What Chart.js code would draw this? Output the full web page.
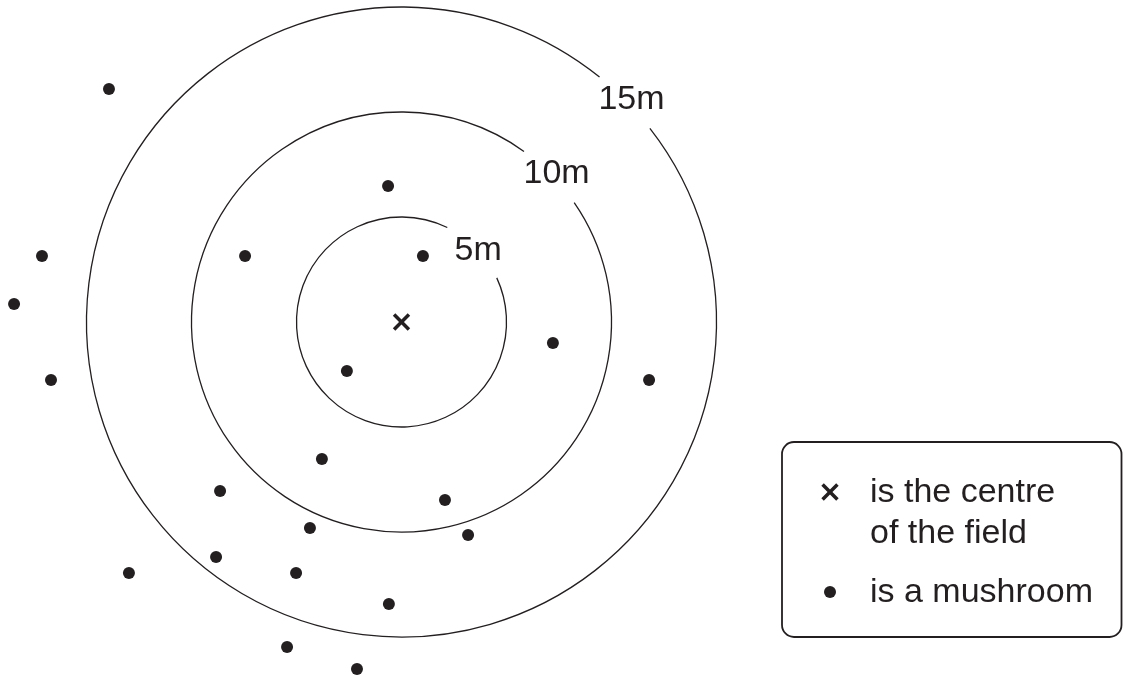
<!DOCTYPE html>
<html>
<head>
<meta charset="utf-8">
<title>Mushrooms in the field</title>
<script src="https://cdn.jsdelivr.net/npm/chart.js@4/dist/chart.umd.min.js"></script>
<style>
  html, body { margin: 0; padding: 0; background: #fff; }
  #wrap { width: 1123px; height: 677px; position: relative; }
</style>
</head>
<body>
<div id="wrap"><canvas id="field"></canvas></div>
<script>
// ---- data (metres from the centre of the field) ----
const ringRadii  = [5, 10, 15];
const ringLabels = ['5m', '10m', '15m'];

const centreX = [0];
const centreY = [0];

const mushroomX = [-13.93, -17.12, -18.45, -16.69, -7.45, -0.64, 1.02, -2.60, 7.21, 11.79,
                   -3.79, -8.64, 2.07, -4.36, 3.17, -8.83, -12.98, -5.02, -0.60, -5.45, -2.12];
const mushroomY = [11.10, 3.14, 0.86, -2.76, 3.14, 6.48, 3.14, -2.33, -1.00, -2.76,
                   -6.52, -8.05, -8.48, -9.81, -10.14, -11.19, -11.95, -11.95, -13.43, -15.48, -16.52];

const legendLines = [['is the centre', 'of the field'], ['is a mushroom']];

const INK = '#231f20';
const FONT = '"Liberation Sans", Arial, Helvetica, sans-serif';

const toPts = (xs, ys) => xs.map((x, i) => ({ x, y: ys[i] }));

// ── rings with a gap for the label ───────────────────────────────────────────
const ringsPlugin = {
  id: 'rings',
  beforeDatasetsDraw(chart) {
    const { ctx, scales: { x, y } } = chart;
    const cx = x.getPixelForValue(0);
    const cy = y.getPixelForValue(0);
    const mid = -44.5 * Math.PI / 180;
    ctx.save();
    ctx.strokeStyle = INK;
    ctx.lineWidth = 1.3;
    ctx.fillStyle = INK;
    ctx.font = '34px ' + FONT;
    ctx.textAlign = 'center';
    ctx.textBaseline = 'middle';
    ringRadii.forEach((rm, i) => {
      const r = x.getPixelForValue(rm) - cx;
      const half = 36 / r;
      ctx.beginPath();
      ctx.arc(cx, cy, r, mid + half, mid - half + Math.PI * 2);
      ctx.stroke();
      const lr = r + (rm >= 10 ? 6 : 1);
      ctx.fillText(ringLabels[i], cx + lr * Math.cos(mid) + 1, cy + lr * Math.sin(mid) + 3);
    });
    ctx.restore();
  },
};

// ── key box (bottom right) ───────────────────────────────────────────────────
const keyPlugin = {
  id: 'key',
  afterDraw(chart) {
    const ctx = chart.ctx;
    ctx.save();
    ctx.strokeStyle = INK;
    ctx.fillStyle = INK;
    ctx.lineWidth = 1.8;
    ctx.beginPath();
    ctx.roundRect(782, 442, 339.5, 195, 12);
    ctx.stroke();

    ctx.lineWidth = 3.5;
    Chart.helpers.drawPoint(ctx, { pointStyle: 'crossRot', radius: 10.5, borderWidth: 3.5 }, 830, 492);
    ctx.lineWidth = 0;
    Chart.helpers.drawPoint(ctx, { pointStyle: 'circle', radius: 6, borderWidth: 0 }, 830, 592);

    ctx.font = '34px ' + FONT;
    ctx.textAlign = 'left';
    ctx.textBaseline = 'alphabetic';
    ctx.fillText(legendLines[0][0], 870, 502);
    ctx.fillText(legendLines[0][1], 870, 543);
    ctx.fillText(legendLines[1][0], 870, 602);
    ctx.restore();
  },
};

new Chart(document.getElementById('field'), {
  type: 'scatter',
  data: {
    datasets: [
      {
        label: 'centre of the field',
        data: toPts(centreX, centreY),
        pointStyle: 'crossRot',
        pointRadius: 10.5,
        borderColor: INK,
        borderWidth: 3.5,
        clip: false,
      },
      {
        label: 'mushroom',
        data: toPts(mushroomX, mushroomY),
        pointStyle: 'circle',
        pointRadius: 6,
        backgroundColor: INK,
        borderWidth: 0,
        clip: false,
      },
    ],
  },
  options: {
    responsive: true,
    maintainAspectRatio: false,
    animation: false,
    events: [],
    layout: { padding: 0, autoPadding: false },
    plugins: { legend: { display: false }, tooltip: { enabled: false } },
    scales: {
      x: { type: 'linear', display: false, min: -401.5 / 21, max: (1123 - 401.5) / 21 },
      y: { type: 'linear', display: false, min: -(677 - 322) / 21, max: 322 / 21 },
    },
  },
  plugins: [ringsPlugin, keyPlugin],
});
</script>
</body>
</html>
